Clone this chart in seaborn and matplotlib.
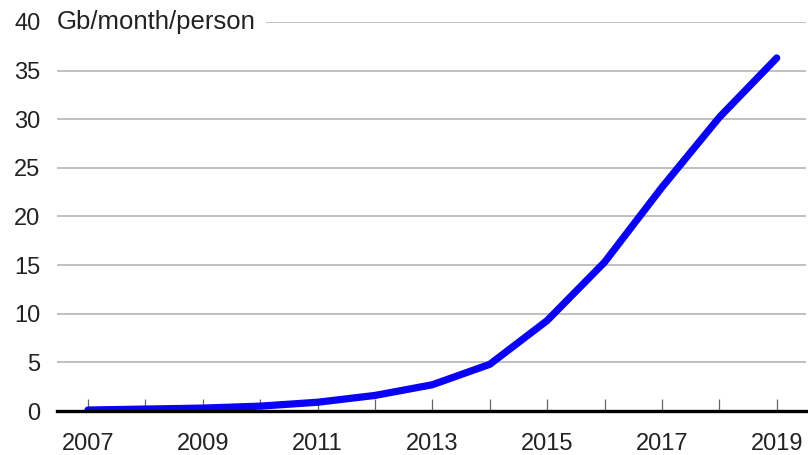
import pandas as pd
import seaborn as sns
import matplotlib.pyplot as plt

years = [2007, 2008, 2009, 2010, 2011, 2012, 2013, 2014, 2015, 2016, 2017, 2018, 2019]
usage = [0.1, 0.2, 0.3, 0.5, 0.9, 1.6, 2.7, 4.8, 9.3, 15.3, 23.0, 30.2, 36.3]
y_ticks = [0, 5, 10, 15, 20, 25, 30, 35, 40]
x_labels = [2007, 2009, 2011, 2013, 2015, 2017, 2019]
unit_label = 'Gb/month/person'

df = pd.DataFrame({'year': years, 'usage': usage})

sns.set_style('white')
plt.rcParams['font.family'] = ['Liberation Sans', 'DejaVu Sans']

fig = plt.figure(figsize=(8.08, 4.55), dpi=100)
ax = fig.add_axes([57 / 808, 44 / 455, 749 / 808, 389 / 455])

# light gridlines
for v in y_ticks[1:]:
    ax.axhline(v, color='#b5b5b5', lw=1.2, zorder=1)

sns.lineplot(data=df, x='year', y='usage', color='#0a00f5', lw=5.2,
             solid_capstyle='round', ax=ax, zorder=3)

ax.set_xlim(2006.46, 2019.51)
ax.set_ylim(0, 40)
ax.set_yticks(y_ticks)
ax.set_yticklabels([str(v) for v in y_ticks])
ax.set_xticks(years)
ax.set_xticklabels([str(y) if y in x_labels else '' for y in years])
ax.tick_params(axis='x', bottom=True, direction='in', length=9, width=0.9, color='#666666',
               labelsize=17, pad=16, labelcolor='#222222')
ax.tick_params(axis='y', left=False, length=0, labelsize=17, pad=12, labelcolor='#222222')

for side in ['top', 'right', 'left']:
    ax.spines[side].set_visible(False)
ax.spines['bottom'].set_linewidth(2.4)
ax.spines['bottom'].set_color('black')
ax.spines['bottom'].set_zorder(4)

ax.text(0.0, 40, unit_label, transform=ax.get_yaxis_transform(), fontsize=18.5,
        color='#222222', va='center', ha='left',
        bbox=dict(facecolor='white', edgecolor='none', pad=7), zorder=2)
ax.set_xlabel('')
ax.set_ylabel('')

fig.savefig('out.png', dpi=100)
